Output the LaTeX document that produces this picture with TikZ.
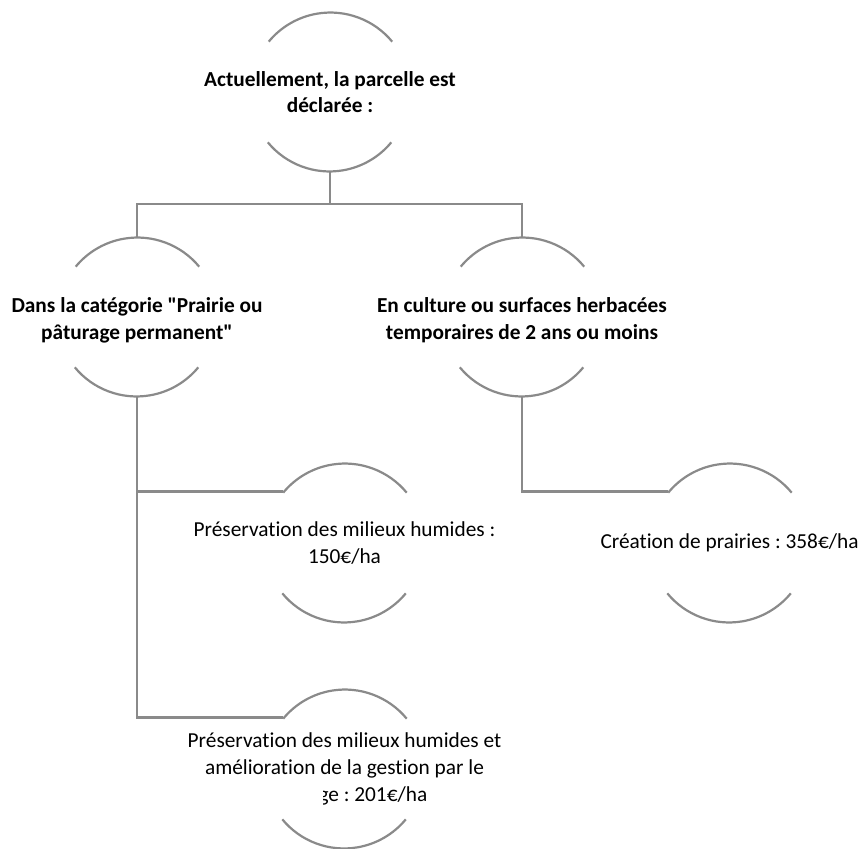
\documentclass[tikz,border=0pt]{standalone}
\usepackage{fontspec}
\setmainfont{Carlito}[Ligatures={TeXOff,NoCommon}]
\frenchspacing
\definecolor{linegray}{RGB}{138,138,138}
\newcommand\ringarcs[1]{%
  \draw[conn] (#1.39.5) arc[start angle=39.5,end angle=140.5,radius=80pt];
  \draw[conn] (#1.219.5) arc[start angle=219.5,end angle=320.5,radius=80pt];}
\begin{document}
\begin{tikzpicture}[x=1pt,y=1pt,
  conn/.style={draw=linegray, line width=2.2pt},
  ring/.style={circle, minimum size=160pt, inner sep=0pt, outer sep=0pt, draw=none},
  boldtext/.style={font=\fontsize{21.33}{26.7}\selectfont\bfseries, align=center, inner sep=0pt, text=black},
  regtext/.style={font=\fontsize{21.33}{26.7}\selectfont, align=center, inner sep=0pt, text=black}]
\useasboundingbox (0,0) rectangle (861,-848);
% rings
\node[ring] (top) at (330,-92) {};
\node[ring] (catA) at (137,-317) {};
\node[ring] (catB) at (522,-317) {};
\node[ring] (mesA) at (344.5,-543) {};
\node[ring] (mesB) at (729.5,-543) {};
\node[ring] (mesC) at (344.5,-769) {};
\coordinate (bar) at (330,-204);
% arcs
\ringarcs{top}
\ringarcs{catA}
\ringarcs{catB}
\ringarcs{mesA}
\ringarcs{mesB}
\ringarcs{mesC}
% connectors
\draw[conn] (top.south) -- (bar);
\draw[conn] (catA.north) |- (bar) -| (catB.north);
\draw[conn] (catA.south) |- (mesA.140.5);
\draw[conn] (catA.south) |- (mesC.140.5);
\draw[conn] (catB.south) |- (mesB.140.5);
% texts
\node[boldtext] (topT) at (top.center) {Actuellement, la parcelle est\\déclarée :};
\node[boldtext] (catAT) at ([yshift=-3pt]catA.center) {Dans la catégorie "Prairie ou\\pâturage permanent"};
\node[boldtext] (catBT) at ([yshift=-3pt]catB.center) {En culture ou surfaces herbacées\\temporaires de 2 ans ou moins};
\node[regtext] (mesAT) at (mesA.center) {Préservation des milieux humides :\\150€/ha};
\node[regtext] (mesBT) at (mesB.center) {Création de prairies : 358€/ha};
\begin{scope}
\clip (0,-690) -- (861,-690) -- (861,-848) -- (323,-848) -- (323,-784.5) -- (0,-784.5) -- cycle;
\node[regtext] (mesCT) at (mesC.center) {Préservation des milieux humides et\\amélioration de la gestion par le\\\phantom{pâtura}ge : 201€/ha};
\end{scope}
\end{tikzpicture}
\end{document}
